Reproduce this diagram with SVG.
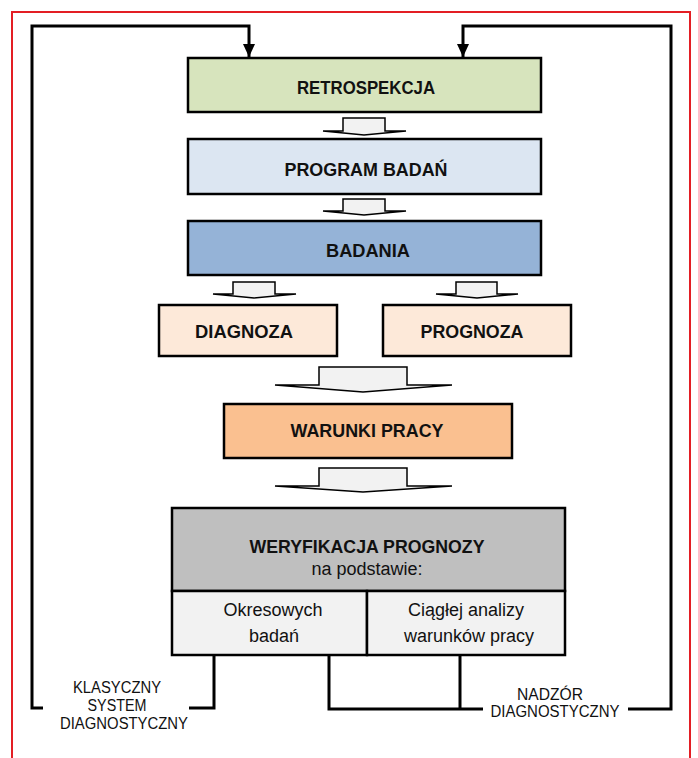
<svg xmlns="http://www.w3.org/2000/svg" width="698" height="758" viewBox="0 0 698 758">
<style>
.box{stroke:#000;stroke-width:2.5}
.t{font-family:"Liberation Sans",Arial,sans-serif;font-size:18px;font-weight:bold;text-anchor:middle;fill:#111}
.r{font-family:"Liberation Sans",Arial,sans-serif;font-size:18px;text-anchor:middle;fill:#111}
.s{font-family:"Liberation Sans",Arial,sans-serif;font-size:16px;text-anchor:middle;fill:#111}
.ln{fill:none;stroke:#000;stroke-width:3}
.ar{fill:#f2f2f2;stroke:#000;stroke-width:1.5;stroke-linejoin:miter}
</style>
<defs>
<marker id="ah" markerUnits="userSpaceOnUse" markerWidth="14" markerHeight="12" viewBox="0 0 14 12" refX="13" refY="6" orient="auto">
<path d="M0,0 L13,6 L0,12 Z" fill="#000"/>
</marker>
</defs>
<rect x="12" y="12" width="678" height="760" fill="#fff" stroke="#e31e24" stroke-width="2"/>

<g id="connectors">
<polyline class="ln" points="43,708 32,708 32,26 249,26 249,57" marker-end="url(#ah)"/>
<polyline class="ln" points="628,709 671,709 671,26 463,26 463,57" marker-end="url(#ah)"/>
<polyline class="ln" points="214,655 214,708 189,708"/>
<polyline class="ln" points="329,655 329,709 483,709"/>
<line class="ln" x1="460" y1="655" x2="460" y2="709"/>
<polygon class="ar" points="343,118 385,118 385,131 406,131 364,135 323,131 343,131"/>
<polygon class="ar" points="343,199 385,199 385,211 406,211 364,215 323,211 343,211"/>
<polygon class="ar" points="233,282 275,282 275,294 296,294 254,298 213,294 233,294"/>
<polygon class="ar" points="456,282 497,282 497,294 518,294 477,298 436,294 456,294"/>
<polygon class="ar" points="319,367 407,367 407,385 452,385 363,392 275,385 319,385"/>
<polygon class="ar" points="319,468 407,468 407,486 452,486 363,492 275,486 319,486"/>
</g>

<g id="retrospekcja">
<rect class="box" x="188" y="58" width="353" height="54" fill="#d7e4bd"/>
<text class="t" x="366" y="94" textLength="138" lengthAdjust="spacingAndGlyphs">RETROSPEKCJA</text>
</g>
<g id="program">
<rect class="box" x="188" y="139" width="353" height="55" fill="#dce6f2"/>
<text class="t" x="366" y="176" textLength="163" lengthAdjust="spacingAndGlyphs">PROGRAM BADAŃ</text>
</g>
<g id="badania">
<rect class="box" x="188" y="221" width="353" height="54" fill="#95b3d7"/>
<text class="t" x="368" y="257" textLength="84" lengthAdjust="spacingAndGlyphs">BADANIA</text>
</g>
<g id="diagnoza">
<rect class="box" x="159" y="305" width="178" height="51" fill="#fde9d9"/>
<text class="t" x="244" y="338" textLength="98" lengthAdjust="spacingAndGlyphs">DIAGNOZA</text>
</g>
<g id="prognoza">
<rect class="box" x="383" y="305" width="188" height="51" fill="#fde9d9"/>
<text class="t" x="472" y="338" textLength="103" lengthAdjust="spacingAndGlyphs">PROGNOZA</text>
</g>
<g id="warunki">
<rect class="box" x="224" y="404" width="288" height="54" fill="#fac090"/>
<text class="t" x="367" y="437" textLength="153" lengthAdjust="spacingAndGlyphs">WARUNKI PRACY</text>
</g>
<g id="weryfikacja">
<rect class="box" x="172" y="508" width="393" height="83" fill="#bfbfbf"/>
<text class="t" x="367" y="553" textLength="235" lengthAdjust="spacingAndGlyphs">WERYFIKACJA PROGNOZY</text>
<text class="r" x="367" y="575">na podstawie:</text>
<rect class="box" x="172" y="591" width="195" height="64" fill="#f2f2f2"/>
<rect class="box" x="367" y="591" width="198" height="64" fill="#f2f2f2"/>
<text class="r" x="273" y="616">Okresowych</text>
<text class="r" x="274" y="642">badań</text>
<text class="r" x="466" y="616">Ciągłej analizy</text>
<text class="r" x="469" y="642">warunków pracy</text>
</g>
<g id="klasyczny">
<text class="s" x="117" y="693" textLength="88" lengthAdjust="spacingAndGlyphs">KLASYCZNY</text>
<text class="s" x="117" y="711" textLength="59" lengthAdjust="spacingAndGlyphs">SYSTEM</text>
<text class="s" x="124" y="729" textLength="128" lengthAdjust="spacingAndGlyphs">DIAGNOSTYCZNY</text>
</g>
<g id="nadzor">
<text class="s" x="550" y="700" textLength="66" lengthAdjust="spacingAndGlyphs">NADZÓR</text>
<text class="s" x="555" y="717" textLength="129" lengthAdjust="spacingAndGlyphs">DIAGNOSTYCZNY</text>
</g>
</svg>
